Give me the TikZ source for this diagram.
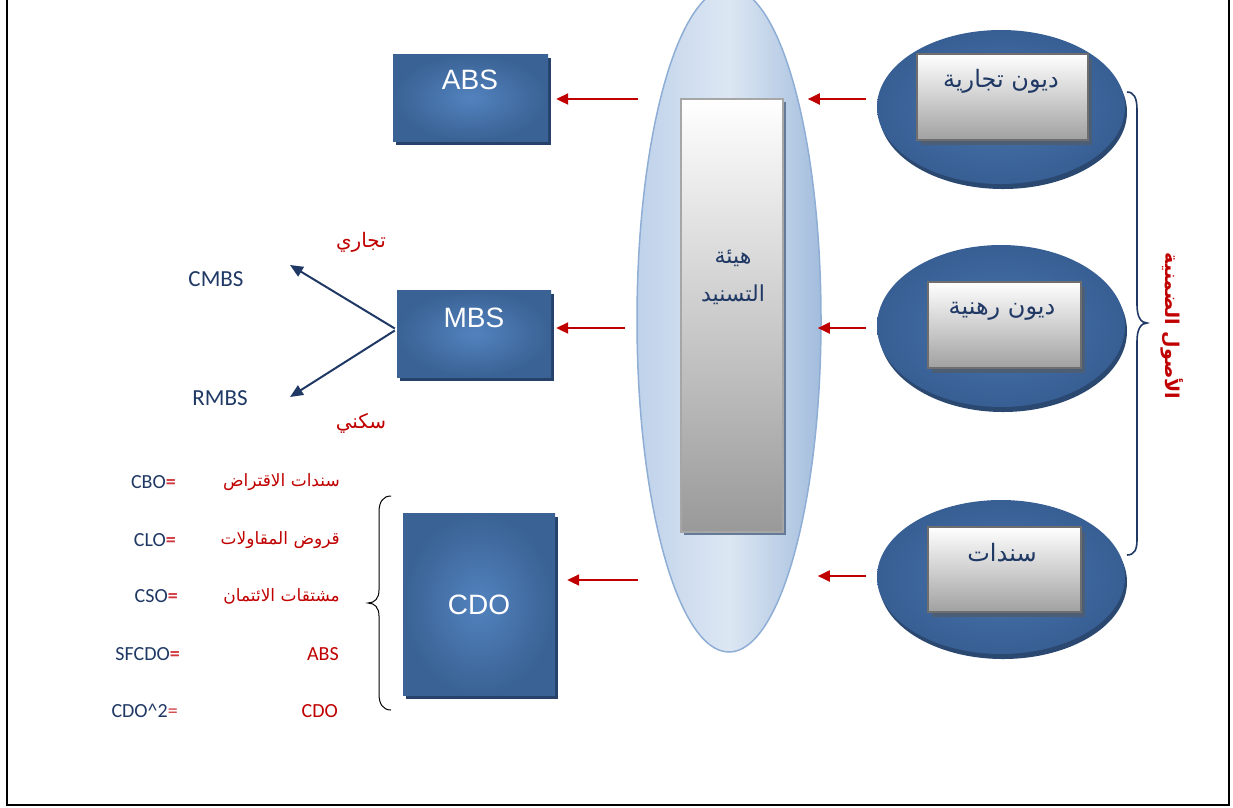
\documentclass[tikz,border=0pt]{standalone}
\usepackage{fontspec}
\setmainfont{Liberation Sans}
\newfontfamily\arabicfont[Script=Arabic]{DejaVu Sans}
\newfontfamily\calfont{Carlito}
\TeXXeTstate=1
\usetikzlibrary{shapes.geometric,arrows.meta,shadows}
\definecolor{navy}{HTML}{1F3864}
\definecolor{darkred}{HTML}{C00000}
\definecolor{eqred}{HTML}{D0353A}
\definecolor{boxin}{HTML}{5282BE}
\definecolor{boxout}{HTML}{3A6294}
\definecolor{boxsh}{HTML}{26426A}
\definecolor{ellin}{HTML}{4773AB}
\definecolor{ellout}{HTML}{385F94}
\definecolor{ellsh}{HTML}{2A4870}
\definecolor{cl1}{HTML}{BFD2EA}
\definecolor{cl2}{HTML}{DDE7F3}
\definecolor{cl3}{HTML}{A3BDDD}
\definecolor{celdraw}{HTML}{8FAED6}
\begin{document}
\begin{tikzpicture}[x=1pt,y=-1pt,
  bluebox/.style={rectangle, inner sep=0pt, draw=none, inner color=boxin, outer color=boxout,
    drop shadow={shadow xshift=3pt, shadow yshift=-4pt, fill=boxsh, opacity=1}},
  blueell/.style={ellipse, inner sep=0pt, draw=none, inner color=ellin, outer color=ellout,
    drop shadow={shadow xshift=2pt, shadow yshift=-5pt, fill=ellsh, opacity=1}},
  graybox/.style={rectangle, inner sep=0pt, draw=black!57, line width=2.5pt, top color=white, bottom color=black!37,
    drop shadow={shadow xshift=4pt, shadow yshift=-5pt, fill=ellsh!60!gray, opacity=1}},
  cgraybox/.style={rectangle, inner sep=0pt, draw=black!35, line width=1.8pt, top color=white, bottom color=black!40,
    drop shadow={shadow xshift=3pt, shadow yshift=-3pt, fill=black!30!celdraw, opacity=1}},
  btxt/.style={text=white, font=\fontsize{28}{30}\selectfont, inner sep=0pt},
  artxt/.style={text=navy, font=\arabicfont\fontsize{24}{26}\selectfont, inner sep=0pt},
  redtxt/.style={text=darkred, font=\arabicfont\fontsize{17}{19}\selectfont, inner sep=0pt},
  redlat/.style={text=darkred, font=\calfont\fontsize{20}{22}\selectfont, inner sep=0pt},
  navtxt/.style={text=navy, font=\calfont\fontsize{20}{22}\selectfont, inner sep=0pt},
  redarr/.style={draw=darkred, line width=2pt, -{Triangle[length=12pt,width=11pt]}},
  navarr/.style={draw=navy, line width=2pt, -{Triangle[length=13pt,width=11pt]}},
  brace/.style={line width=1.6pt}
]
\useasboundingbox (0,0) rectangle (1233,807);
% frame
\draw[line width=2.5pt] (7,-20) -- (7,805) -- (1229,805) -- (1229,-20);

% central ellipse
\node[ellipse, inner sep=0pt, minimum width=184pt, minimum height=664pt, draw=celdraw, line width=1.5pt,
  left color=cl1, right color=cl3, middle color=cl2] (cel) at (729,320) {};
\node[cgraybox, minimum width=102pt, minimum height=433pt] (gc) at (732,315.5) {};
\node[artxt, font=\arabicfont\fontsize{22}{24}\selectfont] (t1) at (733,258) {\beginR هيئة\endR};
\node[artxt, font=\arabicfont\fontsize{22}{24}\selectfont] (t2) at (733,295) {\beginR التسنيد\endR};

% right ellipses
\node[blueell, minimum width=248pt, minimum height=154pt] (e1) at (1001,107) {};
\node[graybox, minimum width=171pt, minimum height=86pt] (g1) at (1002.5,97) {};
\node[artxt] (g1t) at (1001,81) {\beginR ديون تجارية\endR};

\node[blueell, minimum width=248pt, minimum height=162pt] (e2) at (1001,326) {};
\node[graybox, minimum width=153pt, minimum height=86pt] (g2) at (1004.5,325) {};
\node[artxt] (g2t) at (1002,311) {\beginR ديون رهنية\endR};

\node[blueell, minimum width=248pt, minimum height=154pt] (e3) at (1001,577) {};
\node[graybox, minimum width=153pt, minimum height=85pt] (g3) at (1004.5,569.5) {};
\node[artxt] (g3t) at (1002,553) {\beginR سندات\endR};

% blue boxes
\node[bluebox, minimum width=155pt, minimum height=87pt] (abs) at (470.5,97.5) {};
\node[btxt] (abst) at (470,80) {ABS};
\node[bluebox, minimum width=154pt, minimum height=87pt] (mbs) at (474,333.5) {};
\node[btxt] (mbst) at (474,318) {MBS};
\node[bluebox, minimum width=152pt, minimum height=182pt] (cdo) at (479,604) {};
\node[btxt] (cdot) at (479,605) {CDO};

% red arrows
\draw[redarr] ([xshift=-11pt,yshift=8pt]e1.west) -- ++(-58,0);
\draw[redarr] ([xshift=-11pt,yshift=-2pt]e2.west) -- ++(-48,0);
\draw[redarr] ([xshift=-11pt,yshift=1pt]e3.west) -- ++(-48,0);
\draw[redarr] ([xshift=90pt,yshift=-1.5pt]abs.east) -- ([xshift=8pt,yshift=-1.5pt]abs.east);
\draw[redarr] ([xshift=74pt,yshift=5.5pt]mbs.east) -- ([xshift=5pt,yshift=5.5pt]mbs.east);
\draw[redarr] ([xshift=83pt,yshift=24pt]cdo.east) -- ([xshift=12pt,yshift=24pt]cdo.east);

% MBS split
\node[navtxt, font=\calfont\fontsize{23}{25}\selectfont] (cmbs) at (216,279) {CMBS};
\node[navtxt, font=\calfont\fontsize{23}{25}\selectfont] (rmbs) at (220,398) {RMBS};
\coordinate (cmbsTip) at (290,265);
\coordinate (rmbsTip) at (290,397);
\draw[navarr] ([xshift=-2pt,yshift=5pt]mbs.west) -- (cmbsTip);
\draw[navarr] ([xshift=-2pt,yshift=3pt]mbs.west) -- (rmbsTip);
\node[redtxt, font=\arabicfont\fontsize{20}{22}\selectfont] (tj) at (361,242) {\beginR تجاري\endR};
\node[redtxt, font=\arabicfont\fontsize{20}{22}\selectfont] (sk) at (361,423) {\beginR سكني\endR};

% right brace and vertical label
\draw[navy, brace] (1127,92) .. controls (1134,92) and (1137,98) .. (1137,110) -- (1137,305)
  .. controls (1137,317) and (1141,323) .. (1147,323) .. controls (1141,323) and (1137,329) .. (1137,341)
  -- (1137,540) .. controls (1137,550) and (1134,555) .. (1127,555);
\node[text=darkred, font=\arabicfont\bfseries\fontsize{19}{21}\selectfont, rotate=-90, inner sep=0pt] (ul) at (1172,326) {\beginR الأصول الضمنية\endR};

% left brace
\draw[black, line width=1pt] (391,496) .. controls (383,496) and (379,502) .. (379,512) -- (379,590)
  .. controls (379,598) and (375,603) .. (368,603) .. controls (375,603) and (379,608) .. (379,616)
  -- (379,694) .. controls (379,704) and (383,710) .. (391,710);

% list
\node[redtxt, anchor=east] (a1) at (340,482) {\beginR سندات الاقتراض\endR};
\node[redtxt, anchor=east] (a2) at (340,540) {\beginR قروض المقاولات\endR};
\node[redtxt, anchor=east] (a3) at (340,596) {\beginR مشتقات الائتمان\endR};
\node[redlat, anchor=east] (a4) at (339,654) {ABS};
\node[redlat, anchor=east] (a5) at (338,711) {CDO};
\node[navtxt, anchor=east] (b1) at (176,482) {CBO\textcolor{eqred}{\textbf{=}}};
\node[navtxt, anchor=east] (b2) at (176,540) {CLO\textcolor{eqred}{\textbf{=}}};
\node[navtxt, anchor=east] (b3) at (178,596) {CSO\textcolor{eqred}{\textbf{=}}};
\node[navtxt, anchor=east] (b4) at (180,654) {SFCDO\textcolor{eqred}{\textbf{=}}};
\node[navtxt, anchor=east] (b5) at (178,711) {CDO\textasciicircum 2\textcolor{eqred}{=}};
\end{tikzpicture}
\end{document}
